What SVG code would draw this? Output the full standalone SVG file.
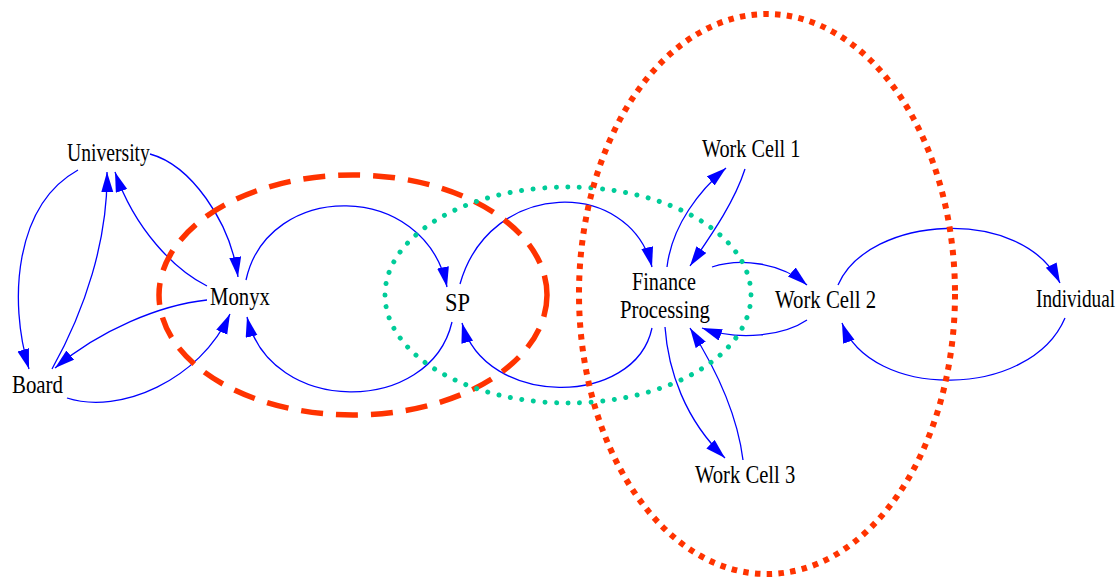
<svg xmlns="http://www.w3.org/2000/svg" width="1120" height="578" viewBox="0 0 1120 578">
  <style>
    .edge { fill: none; stroke: #0000ff; stroke-width: 1.3; marker-end: url(#arrow); }
    .label { font-family: 'Liberation Serif', 'DejaVu Serif', serif; font-size: 25px; fill: #000; }
    .ring-dash { fill: none; stroke: #ff3300; stroke-width: 5.5; stroke-dasharray: 22 13; }
    .ring-dot { fill: none; stroke: #00cc99; stroke-width: 5; stroke-linecap: round; stroke-dasharray: 0.01 11.6; }
    .ring-square { fill: none; stroke: #ff3300; stroke-width: 6; stroke-dasharray: 5.5 6.3; }
  </style>
  <defs>
    <marker id="arrow" markerUnits="userSpaceOnUse" markerWidth="21" markerHeight="13" refX="20" refY="6" orient="auto">
      <path d="M0,0 L20,6 L0,12 z" fill="#0000ff"/>
    </marker>
  </defs>
  <rect width="1120" height="578" fill="#ffffff"/>

  <!-- connectors -->
  <g id="connectors">
    <path class="edge" d="M78,170 C 15,205 8,300 29,369"/>
    <path class="edge" d="M52,369 C 85,310 108,240 107,172"/>
    <path class="edge" d="M207,286 C 175,270 135,230 115,172"/>
    <path class="edge" d="M150,154 C 190,165 230,220 238,277"/>
    <path class="edge" d="M207,300 C 160,305 100,330 55,368"/>
    <path class="edge" d="M67,398 C 120,415 200,380 230,314"/>
    <path class="edge" d="M246,280 C 268,180 425,180 447,287"/>
    <path class="edge" d="M452,322 C 430,416 270,416 247,317"/>
    <path class="edge" d="M460,284 C 490,178 630,178 652,267"/>
    <path class="edge" d="M652,328 C 635,408 485,408 462,323"/>
    <path class="edge" d="M667,267 C 672,225 700,190 726,168"/>
    <path class="edge" d="M745,169 C 735,200 715,230 690,266"/>
    <path class="edge" d="M712,267 C 740,258 780,262 807,285"/>
    <path class="edge" d="M807,320 C 785,335 740,342 702,328"/>
    <path class="edge" d="M665,327 C 668,370 685,420 725,458"/>
    <path class="edge" d="M743,460 C 738,420 720,375 690,328"/>
    <path class="edge" d="M838,285 C 868,215 1022,205 1060,283"/>
    <path class="edge" d="M1065,318 C 1030,400 870,400 842,323"/>
  </g>

  <!-- grouping outlines -->
  <g id="groupings">
    <ellipse class="ring-dash" cx="353" cy="295" rx="194" ry="120"/>
    <ellipse class="ring-dot" cx="568" cy="295" rx="183" ry="108"/>
    <ellipse class="ring-square" cx="767" cy="294" rx="188" ry="280"/>
  </g>

  <!-- nodes: serif labels, narrowed horizontally -->
  <g id="university"><text class="label" transform="translate(67,161) scale(0.786,1)">University</text></g>
  <g id="board"><text class="label" transform="translate(12,393) scale(0.835,1)">Board</text></g>
  <g id="monyx"><text class="label" transform="translate(210,305) scale(0.831,1)">Monyx</text></g>
  <g id="sp"><text class="label" transform="translate(445,311) scale(0.9,1)">SP</text></g>
  <g id="finance-processing">
    <text class="label" transform="translate(632,290) scale(0.808,1)">Finance</text>
    <text class="label" transform="translate(620,318) scale(0.831,1)">Processing</text>
  </g>
  <g id="work-cell-1"><text class="label" transform="translate(702,157) scale(0.809,1)">Work Cell 1</text></g>
  <g id="work-cell-2"><text class="label" transform="translate(775,308) scale(0.833,1)">Work Cell 2</text></g>
  <g id="work-cell-3"><text class="label" transform="translate(695,483) scale(0.825,1)">Work Cell 3</text></g>
  <g id="individual"><text class="label" transform="translate(1036,307) scale(0.77,1)">Individual</text></g>
</svg>
